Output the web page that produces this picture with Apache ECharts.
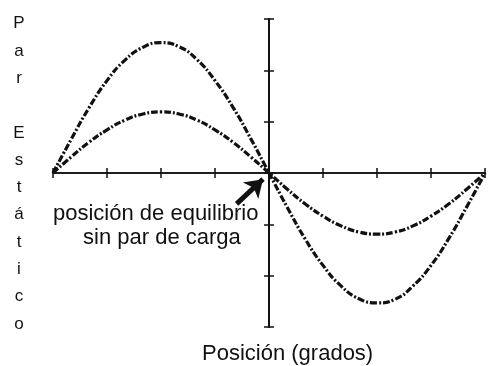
<!DOCTYPE html>
<html>
<head>
<meta charset="utf-8">
<script src="https://cdn.jsdelivr.net/npm/echarts@6/dist/echarts.min.js"></script>
<style>
  html, body { margin: 0; padding: 0; background: #fff; }
  #chart { width: 490px; height: 366px; }
</style>
</head>
<body>
<div id="chart"></div>
<script>
// Rotor position in degrees
const positions = [-180, -165, -150, -135, -120, -105, -90, -75, -60, -45, -30, -15, 0,
                   15, 30, 45, 60, 75, 90, 105, 120, 135, 150, 165, 180];
// Static torque, higher load
const torqueHigh = [0, 0.65, 1.27, 1.80, 2.20, 2.45, 2.54, 2.46, 2.21, 1.80, 1.28, 0.66, 0,
                    -0.66, -1.28, -1.80, -2.20, -2.45, -2.53, -2.46, -2.20, -1.80, -1.27, -0.65, 0];
// Static torque, lower load
const torqueLow = [0, 0.31, 0.60, 0.84, 1.03, 1.15, 1.19, 1.15, 1.03, 0.84, 0.60, 0.31, 0,
                   -0.31, -0.60, -0.84, -1.03, -1.15, -1.19, -1.15, -1.03, -0.84, -0.60, -0.31, 0];
const xTicks = { min: -180, max: 180, step: 45 };
const yTicks = { min: -3, max: 3, step: 1 };
// Arrow pointing at the equilibrium position (degrees, torque)
const arrowTail = [-27, -0.6];
const arrowHead = [-5, -0.12];

const yTitle = 'P\na\nr\n\nE\ns\nt\ná\nt\ni\nc\no';
const xTitle = 'Posición (grados)';
const noteLines = ['posición de equilibrio', 'sin par de carga'];

const ink = '#111';
const font = '"Liberation Sans", Arial, sans-serif';

const pairs = arr => positions.map((p, i) => [p, arr[i]]);

const curveStyle = { color: ink, width: 3.2, type: [7, 2, 2, 2] };

function axisPair(kind, range, lineWidth) {
  const base = {
    type: 'value', min: range.min, max: range.max, interval: range.step,
    axisLine: { onZero: true, lineStyle: { color: ink, width: lineWidth } },
    axisLabel: { show: false }, splitLine: { show: false }
  };
  // Ticks cross the axis line: one axis draws them inside, its twin outside
  return [
    Object.assign({}, base, { axisTick: { inside: true, length: 5, lineStyle: { color: ink, width: 1.5 } } }),
    Object.assign({}, base, {
      position: kind === 'x' ? 'bottom' : 'left',
      axisTick: { inside: false, length: 5, lineStyle: { color: ink, width: 1.5 } }
    })
  ];
}

const chart = echarts.init(document.getElementById('chart'), null, { renderer: 'canvas' });
chart.setOption({
  animation: false,
  backgroundColor: '#fff',
  grid: { left: 53, right: 5, top: 19, bottom: 39 },
  xAxis: axisPair('x', xTicks, 1.5),
  yAxis: axisPair('y', yTicks, 2),
  graphic: [{
    type: 'text', x: 19, y: 10,
    style: { text: yTitle, font: '17px ' + font, fill: ink, textAlign: 'center', lineHeight: 27.3 }
  }, {
    type: 'text', x: 202, y: 343,
    style: { text: xTitle, font: '22px ' + font, fill: ink }
  }, {
    type: 'text', x: 53, y: 203,
    style: { text: noteLines[0], font: '22px ' + font, fill: ink }
  }, {
    type: 'text', x: 83, y: 227,
    style: { text: noteLines[1], font: '22px ' + font, fill: ink }
  }],
  series: [{
    type: 'line', data: pairs(torqueHigh), smooth: true, showSymbol: false,
    lineStyle: curveStyle
  }, {
    type: 'line', data: pairs(torqueLow), smooth: true, showSymbol: false,
    lineStyle: curveStyle,
    markLine: {
      silent: true, symbol: ['none', 'arrow'], symbolSize: [17, 17],
      lineStyle: { color: ink, width: 5, type: 'solid' },
      label: { show: false },
      data: [[{ coord: arrowTail }, { coord: arrowHead }]]
    }
  }]
});
</script>
</body>
</html>
